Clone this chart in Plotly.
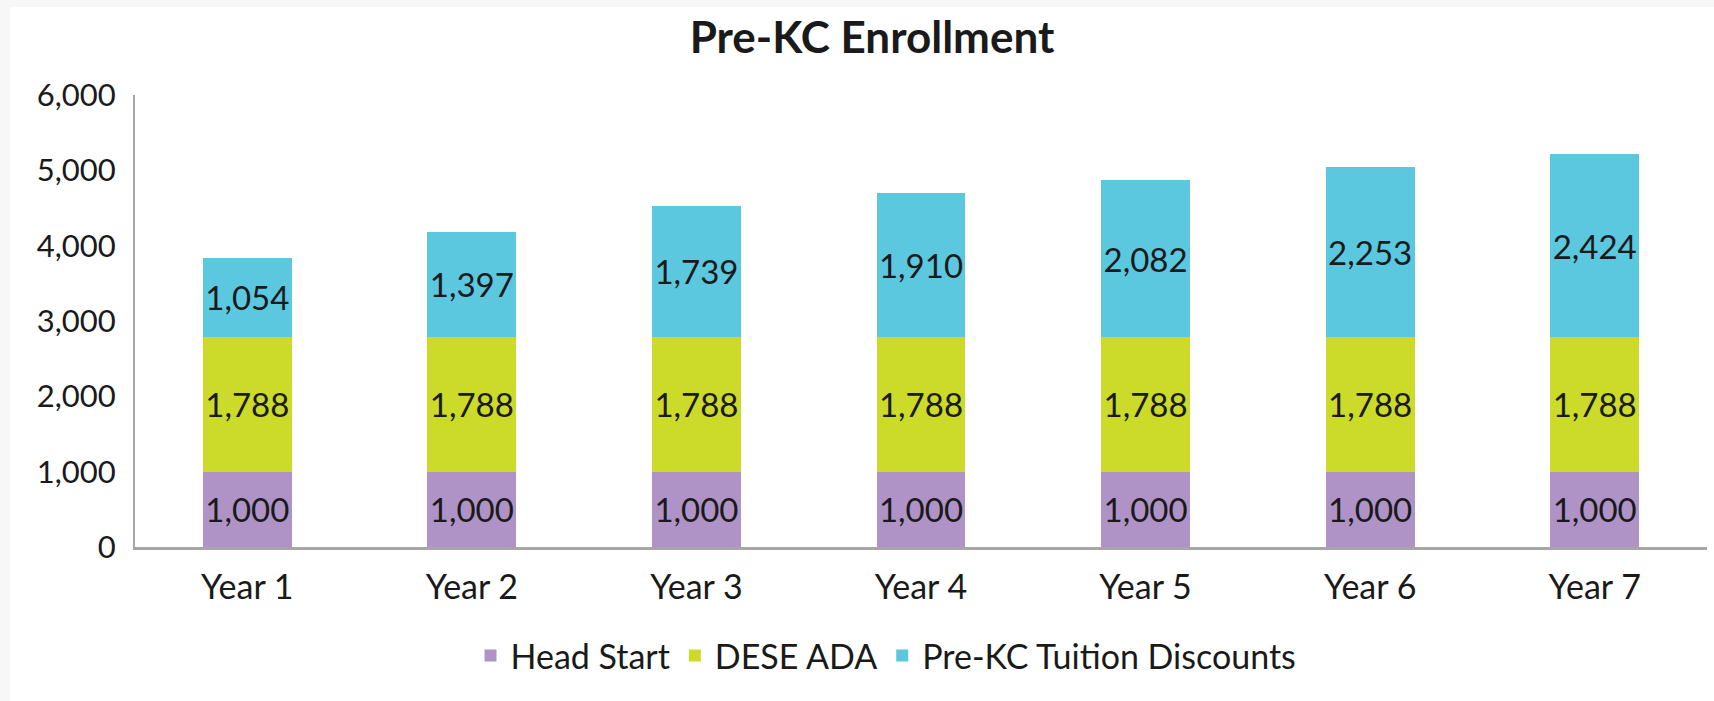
import plotly.graph_objects as go

categories = ["Year 1", "Year 2", "Year 3", "Year 4", "Year 5", "Year 6", "Year 7"]
head_start = [1000, 1000, 1000, 1000, 1000, 1000, 1000]
dese_ada = [1788, 1788, 1788, 1788, 1788, 1788, 1788]
tuition_discounts = [1054, 1397, 1739, 1910, 2082, 2253, 2424]
y_ticks = [0, 1000, 2000, 3000, 4000, 5000, 6000]

series = [
    ("Head Start", head_start, "#AF93C6"),
    ("DESE ADA", dese_ada, "#CCDB29"),
    ("Pre-KC Tuition Discounts", tuition_discounts, "#5BC8DF"),
]

FONT = "Lato"
TXT = "#1a1a1a"
W, H = 1714, 701
L, R, T, B = 135, 7, 95, 154

fig = go.Figure()
for name, vals, col in series:
    fig.add_trace(go.Bar(
        x=categories, y=vals, name=name,
        marker=dict(color=col, line=dict(width=0)),
        texttemplate="%{y:,}", textposition="inside",
        insidetextanchor="middle", constraintext="none",
        textfont=dict(family=FONT, size=33, color=TXT),
        textangle=0,
    ))

pw = W - L - R
ph = H - T - B
def px(x):
    return (x - L) / pw
def py(y):
    return (H - B - y) / ph

fig.update_layout(
    width=W, height=H,
    barmode="stack", bargap=0.604,
    paper_bgcolor="#F7F7F7", plot_bgcolor="white",
    margin=dict(l=L, r=R, t=T, b=B, pad=0),
    font=dict(family=FONT, color=TXT),
    title=dict(text="<b>Pre-KC Enrollment</b>", x=px(872), xref="paper", xanchor="center",
               y=1 - 38 / H, yanchor="middle", font=dict(family=FONT, size=44, color=TXT)),
    legend=dict(orientation="h", x=px(886), xanchor="center", y=py(656), yanchor="middle",
                font=dict(family=FONT, size=34, color=TXT), bgcolor="rgba(0,0,0,0)",
                traceorder="normal"),
    xaxis=dict(showgrid=False, showline=True, linecolor="#A6A6A6", linewidth=3,
               ticks="", tickfont=dict(family=FONT, size=34, color=TXT),
               ticklabelstandoff=8, zeroline=False),
    yaxis=dict(range=[0, 6000], tickvals=y_ticks, tickformat=",", showgrid=False,
               showline=True, linecolor="#A6A6A6", linewidth=2, ticks="",
               tickfont=dict(family=FONT, size=31, color=TXT), ticklabelstandoff=11,
               zeroline=False),
    shapes=[dict(type="rect", xref="paper", yref="paper", layer="below",
                 x0=px(10), x1=px(W + 5), y0=py(H + 5), y1=py(7),
                 fillcolor="white", line=dict(width=0))],
)

fig.write_html("out.html", config={"displayModeBar": False},
               post_script="document.body.style.margin='0';document.body.style.background='#F7F7F7';")
